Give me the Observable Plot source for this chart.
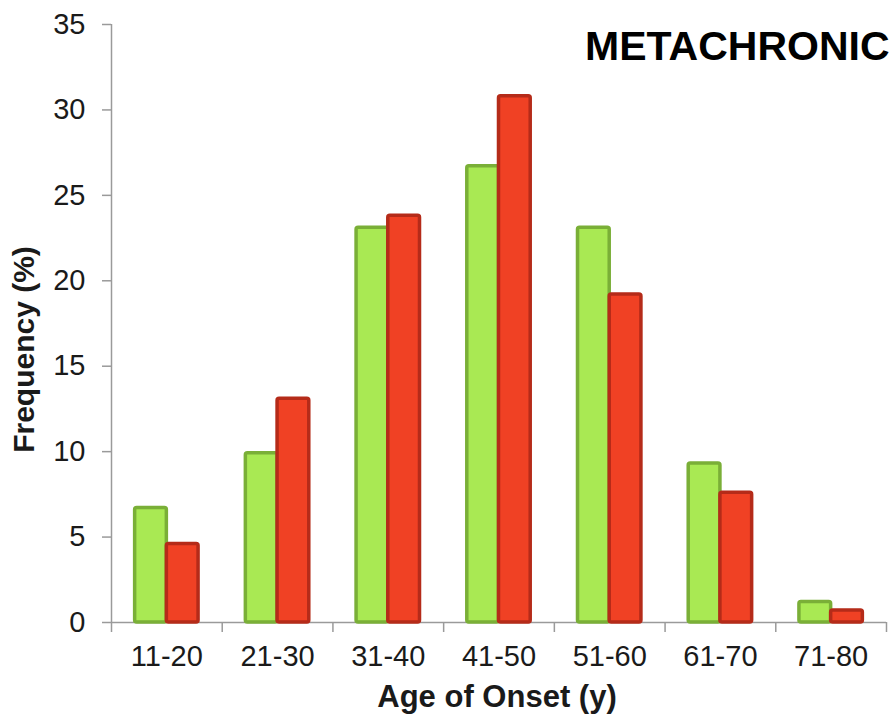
<!DOCTYPE html>
<html>
<head>
<meta charset="utf-8">
<script src="https://cdn.jsdelivr.net/npm/d3@7"></script>
<script src="https://cdn.jsdelivr.net/npm/@observablehq/plot@0.6"></script>
<style>
  body { margin: 0; background: #fff; }
  #chart svg { display: block; }
</style>
</head>
<body>
<div id="chart"></div>
<script>
// Data
const categories = ["11-20", "21-30", "31-40", "41-50", "51-60", "61-70", "71-80"];
const greenValues = [6.7, 9.9, 23.1, 26.7, 23.1, 9.3, 1.2];
const redValues   = [4.6, 13.1, 23.8, 30.8, 19.2, 7.6, 0.7];
const yTicks = [0, 5, 10, 15, 20, 25, 30, 35];
const title = "METACHRONIC";
const xTitle = "Age of Onset (y)";
const yTitle = "Frequency (%)";

const rows = categories.map((c, i) => ({cat: c, i, green: greenValues[i], red: redValues[i]}));
const font = "'Liberation Sans', Arial, sans-serif";

const chart = Plot.plot({
  width: 895,
  height: 720,
  marginLeft: 111,
  marginRight: 9,
  marginTop: 24,
  marginBottom: 98,
  style: {fontFamily: font, background: "#fff", color: "#1a1a1a"},
  x: {type: "linear", domain: [0, categories.length], axis: null},
  y: {domain: [0, 35], axis: null},
  marks: [
    Plot.ruleX([0], {stroke: "#9a9a9a", strokeWidth: 1.5}),
    Plot.axisY({ticks: yTicks, tickSize: 9, tickPadding: 17, fontSize: 29, stroke: "#9a9a9a", fill: "#1a1a1a", strokeWidth: 1.5, label: null}),
    Plot.axisX(d3.range(categories.length + 1), {tickSize: 10, tickFormat: () => "", stroke: "#9a9a9a", strokeWidth: 1.5, label: null}),
    Plot.axisX(categories.map((c, i) => i + 0.5), {tickSize: 0, tickPadding: 23, fontSize: 29, fill: "#1a1a1a", tickFormat: v => categories[Math.floor(v)], label: null}),
    Plot.ruleY([0], {stroke: "#9a9a9a", strokeWidth: 1.5}),
    Plot.rectY(rows, {x1: d => d.i + 0.2, x2: d => d.i + 0.5, y: "green", fill: "#a9e953", stroke: "#7aaf37", strokeWidth: 3.5, rx: 2, insetLeft: 1.5}),
    Plot.rectY(rows, {x1: d => d.i + 0.5, x2: d => d.i + 0.8, y: "red", fill: "#f04124", stroke: "#b52b19", strokeWidth: 3.5, rx: 2, insetRight: 1.5}),
    Plot.text([title], {text: d => d, frameAnchor: "top-right", textAnchor: "end", lineAnchor: "top", dx: 3, dy: 6, fontSize: 41, fontWeight: "bold", fill: "#000"}),
    Plot.text([yTitle], {text: d => d, frameAnchor: "left", textAnchor: "middle", rotate: -90, lineAnchor: "middle", dx: -87, dy: 26, fontSize: 30, fontWeight: "bold", fill: "#1a1a1a"}),
    Plot.text([xTitle], {text: d => d, frameAnchor: "bottom", textAnchor: "middle", lineAnchor: "middle", dx: -2, dy: 75, fontSize: 31, fontWeight: "bold", fill: "#1a1a1a"})
  ]
});
document.getElementById("chart").appendChild(chart);
</script>
</body>
</html>
